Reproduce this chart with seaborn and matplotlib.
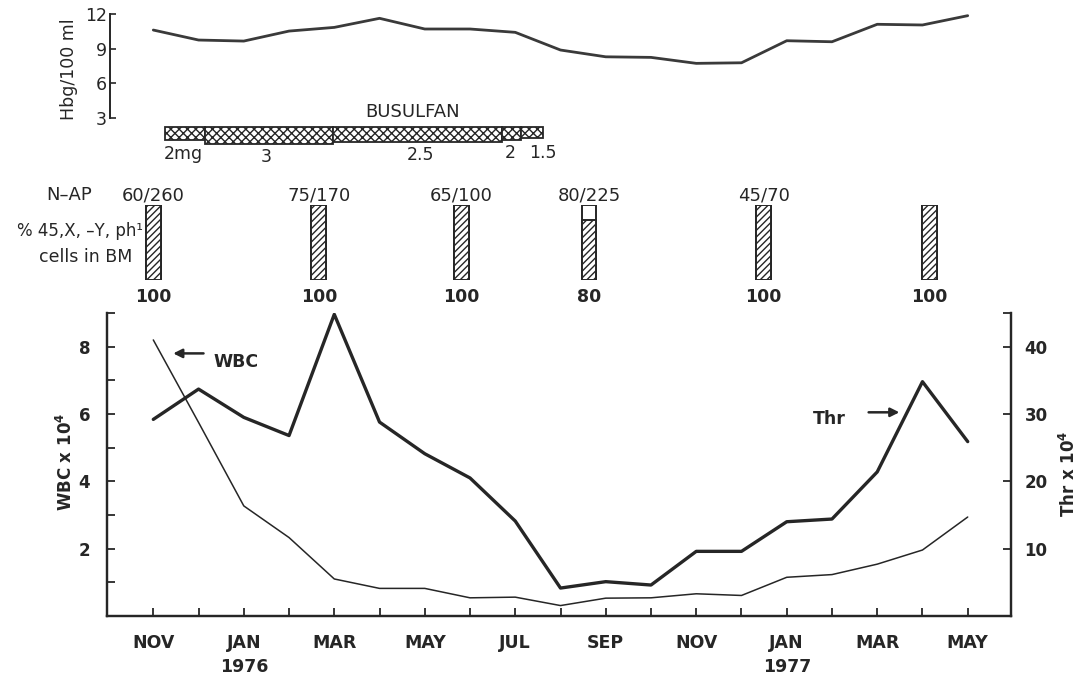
import numpy as np
import pandas as pd
import matplotlib
matplotlib.use("Agg")
import matplotlib.pyplot as plt
import seaborn as sns

# ---------------- data ----------------
months = ["NOV", "DEC", "JAN", "FEB", "MAR", "APR", "MAY", "JUN", "JUL", "AUG",
          "SEP", "OCT", "NOV", "DEC", "JAN", "FEB", "MAR", "APR", "MAY"]
years = {2: "1976", 14: "1977"}
wbc = [8.2, 5.75, 3.27, 2.33, 1.10, 0.82, 0.82, 0.54, 0.56, 0.31,
       0.53, 0.54, 0.66, 0.61, 1.15, 1.23, 1.54, 1.96, 2.94]
thr = [29.2, 33.7, 29.5, 26.8, 44.8, 28.8, 24.1, 20.5, 14.1, 4.15,
       5.1, 4.6, 9.6, 9.6, 14.0, 14.4, 21.4, 34.8, 25.9]
hbg = [10.63, 9.76, 9.67, 10.54, 10.86, 11.65, 10.72, 10.72, 10.43, 8.89,
       8.30, 8.25, 7.73, 7.78, 9.70, 9.61, 11.13, 11.07, 11.88]

# busulfan dosage periods (month index units) and dose (mg)
bus_start = [0.26, 1.14, 3.98, 7.71, 8.13]
bus_end = [1.14, 3.98, 7.71, 8.13, 8.62]
bus_dose = [2, 3, 2.5, 2, 1.5]
bus_labels = ["2mg", "3", "2.5", "2", "1.5"]

# bone marrow samples
bm_x = [0.0, 3.66, 6.81, 9.63, 13.49, 17.16]
nap_labels = ["60/260", "75/170", "65/100", "80/225", "45/70", ""]
bm_pct = [100, 100, 100, 80, 100, 100]

df = pd.DataFrame({"t": np.arange(len(months)), "wbc": wbc, "thr": thr, "hbg": hbg})

# ---------------- style ----------------
sns.set_theme(style="ticks")
plt.rcParams["font.family"] = ["DejaVu Sans"]
plt.rcParams["mathtext.default"] = "regular"
plt.rcParams["hatch.linewidth"] = 1.0
INK = "#262626"
plt.rcParams["hatch.color"] = INK

W_PX, H_PX = 1078, 677
fig = plt.figure(figsize=(W_PX / 100, H_PX / 100), dpi=100)
fig.patch.set_facecolor("white")


def rect(x0, x1, ytop, ybot):
    return [x0 / W_PX, 1 - ybot / H_PX, (x1 - x0) / W_PX, (ybot - ytop) / H_PX]


XL, XR = 106.7, 1010.7
xlim = (-1.03, 18.95)

# ---------------- bottom panel ----------------
ax = fig.add_axes(rect(XL, XR, 313, 616))
ax2 = ax.twinx()
sns.lineplot(data=df, x="t", y="wbc", ax=ax, color=INK, lw=1.1)
sns.lineplot(data=df, x="t", y="thr", ax=ax2, color=INK, lw=2.4)
ax.set_xlim(*xlim)
ax.set_ylim(0, 9)
ax2.set_ylim(0, 45)
for a in (ax, ax2):
    a.set_facecolor("none")
    a.set_xlabel("")
    a.set_ylabel("")
    a.spines["top"].set_visible(False)
    for s in ("left", "right", "bottom"):
        a.spines[s].set_linewidth(1.6)
        a.spines[s].set_color(INK)
ax.set_xticks(range(len(months)))
ax.set_xticklabels([m if i % 2 == 0 else "" for i, m in enumerate(months)],
                   fontsize=12.5, fontweight="bold", color=INK)
ax.set_yticks(range(1, 10))
ax.set_yticklabels([str(v) if v % 2 == 0 and v < 9 else "" for v in range(1, 10)],
                   fontsize=12, fontweight="bold", color=INK)
ax2.set_yticks([10, 20, 30, 40, 45])
ax2.set_yticklabels(["10", "20", "30", "40", ""], fontsize=12,
                    fontweight="bold", color=INK)
ax.tick_params(axis="x", direction="in", length=6, width=1.3, pad=13, colors=INK)
ax.tick_params(axis="y", direction="in", length=6, width=1.3, pad=12, colors=INK)
ax2.tick_params(axis="y", direction="in", length=6, width=1.3, pad=10, colors=INK)
for i, y in years.items():
    ax.text(i, -(666.7 - 616) / (616 - 313), y, transform=ax.get_xaxis_transform(),
            ha="center", va="center", fontsize=12.5, fontweight="bold",
            color=INK, clip_on=False)

fig.text(66 / W_PX, 1 - 462 / H_PX, "WBC x 10$^{4}$", rotation=90, ha="center",
         va="center", fontsize=12, fontweight="bold", color=INK)
fig.text(1069 / W_PX, 1 - 474 / H_PX, "Thr x 10$^{4}$", rotation=90, ha="center",
         va="center", fontsize=12, fontweight="bold", color=INK)

arrow = dict(arrowstyle="-|>", lw=1.8, color=INK, mutation_scale=13,
             shrinkA=0, shrinkB=0)
ax.annotate("", xy=(0.44, 7.8), xytext=(1.11, 7.8), arrowprops=arrow)
ax.text(1.32, 7.55, "WBC", ha="left", va="center", fontsize=12.5,
        fontweight="bold", color=INK)
ax.annotate("", xy=(16.49, 6.05), xytext=(15.81, 6.05), arrowprops=arrow)
ax.text(15.3, 5.84, "Thr", ha="right", va="center", fontsize=12.5,
        fontweight="bold", color=INK)

# ---------------- Hbg panel ----------------
axh = fig.add_axes(rect(XL, XR, 14.3, 117.7))
sns.lineplot(data=df, x="t", y="hbg", ax=axh, color="#3a3a3a", lw=2.0)
axh.set_xlim(*xlim)
axh.set_ylim(3, 12)
axh.set_facecolor("none")
axh.set_xlabel("")
axh.set_ylabel("")
for s in ("top", "right", "bottom"):
    axh.spines[s].set_visible(False)
axh.spines["left"].set_position(("data", -0.96))
axh.spines["left"].set_linewidth(1.4)
axh.spines["left"].set_color(INK)
axh.set_xticks([])
axh.set_yticks([3, 6, 9, 12])
axh.set_yticklabels(["3", "6", "9", "12"], fontsize=12.5, color=INK)
axh.tick_params(axis="y", direction="in", length=4, width=1.2, pad=2, colors=INK)
fig.text(69 / W_PX, 1 - 69 / H_PX, "Hbg/100 ml", rotation=90, ha="center",
         va="center", fontsize=12.5, color=INK)

# ---------------- busulfan strip ----------------
axb = fig.add_axes(rect(XL, XR, 100, 170))
axb.set_xlim(*xlim)
axb.set_ylim(170, 100)
axb.axis("off")
thick = [5.5 + 3.9 * d for d in bus_dose]
axb.bar(bus_start, thick, width=np.array(bus_end) - np.array(bus_start),
        bottom=126.7, align="edge", color="white", edgecolor=INK, lw=1.3,
        hatch="xxxx")
axb.text(5.73, 111.7, "BUSULFAN", ha="center", va="center", fontsize=13,
         color=INK)
bus_label_pos = [0.66, 2.5, 5.9, 7.88, 8.62]
bus_label_y = [154, 157, 155, 153, 152.5]
for xp, yp, lab in zip(bus_label_pos, bus_label_y, bus_labels):
    axb.text(xp, yp, lab, ha="center", va="center", fontsize=12.5, color=INK)

# ---------------- bone marrow section ----------------
axm = fig.add_axes(rect(XL, XR, 205, 280))
axm.set_xlim(*xlim)
axm.set_ylim(0, 100)
axm.axis("off")
bw = 0.33
axm.bar(bm_x, [100] * len(bm_x), width=bw, color="white", edgecolor=INK, lw=1.4)
axm.bar(bm_x, bm_pct, width=bw, color="white", edgecolor=INK, lw=1.4,
        hatch="/////")
for xb, lab, p in zip(bm_x, nap_labels, bm_pct):
    if lab:
        axm.text(xb, 113, lab, ha="center", va="center", fontsize=13,
                 color=INK, clip_on=False)
    axm.text(xb, -22, str(p), ha="center", va="center", fontsize=12.5,
             fontweight="bold", color=INK, clip_on=False)
axm.text(-1.85, 113, "N\u2013AP", ha="center", va="center", fontsize=13,
         color=INK, clip_on=False)
axm.text(-0.22, 66, "% 45,X, \u2013Y, ph\u00b9", ha="right", va="center",
         fontsize=12, color=INK, clip_on=False)
axm.text(-0.47, 31, "cells in BM", ha="right", va="center", fontsize=12.5,
         color=INK, clip_on=False)

fig.savefig("out.png", dpi=100, facecolor="white")
